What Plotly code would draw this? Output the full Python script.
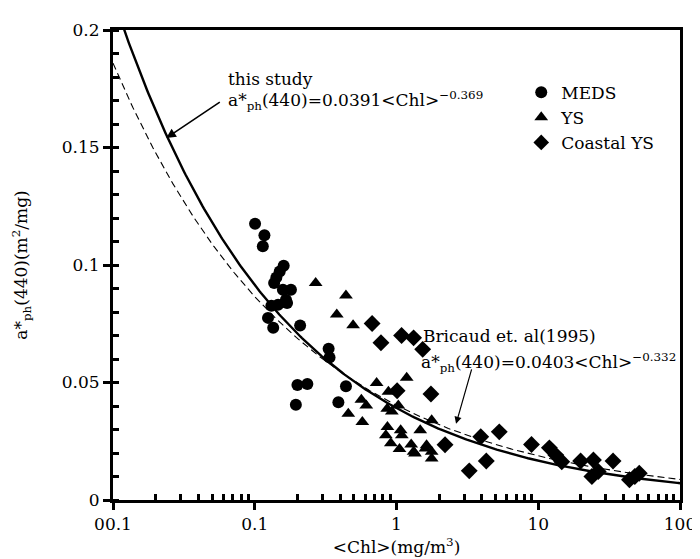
import numpy as np
import plotly.graph_objects as go

# ---- data ----
meds_x = [0.1005, 0.117, 0.114, 0.160, 0.150, 0.142, 0.137, 0.158, 0.180, 0.166,
          0.131, 0.146, 0.169, 0.124, 0.135, 0.209, 0.332, 0.337, 0.200, 0.235,
          0.44, 0.389, 0.195]
meds_y = [0.1176, 0.1127, 0.108, 0.0997, 0.0972, 0.0947, 0.0923, 0.0895, 0.0895, 0.0852,
          0.0827, 0.0831, 0.0838, 0.0775, 0.0733, 0.0743, 0.0644, 0.0606, 0.0489, 0.0494,
          0.0484, 0.0416, 0.0405]

ys_x = [0.269, 0.44, 0.379, 0.494, 0.457, 0.724, 1.18, 0.877, 0.565, 0.612,
        0.574, 1.03, 0.927, 0.863, 0.841, 1.07, 0.912, 1.05, 1.27, 1.47,
        1.63, 1.32, 1.77, 1.77, 1.77, 0.86, 1.09, 1.35, 1.6]
ys_y = [0.0923, 0.087, 0.0789, 0.0744, 0.0367, 0.0498, 0.052, 0.0461, 0.0427, 0.0402,
        0.0332, 0.0402, 0.0377, 0.0311, 0.0276, 0.0297, 0.0241, 0.0217, 0.0236, 0.0297,
        0.0233, 0.0205, 0.0177, 0.0205, 0.0339, 0.0388, 0.0276, 0.0198, 0.0219]

coastal_x = [0.673, 0.777, 1.086, 1.32, 1.53, 1.01, 1.75, 2.2, 3.93, 5.31,
             4.30, 3.26, 8.96, 11.98, 13.3, 14.65, 19.9, 24.5, 33.7, 23.9,
             26.5, 44, 51.6, 48]
coastal_y = [0.0751, 0.0669, 0.070, 0.069, 0.0641, 0.0465, 0.0451, 0.0235, 0.0269, 0.029,
             0.0166, 0.0124, 0.0236, 0.0222, 0.0191, 0.0163, 0.0166, 0.017, 0.0166, 0.010,
             0.0121, 0.0086, 0.0114, 0.0100]

# fitted power laws given in the chart
this_a, this_b = 0.0391, -0.369
bric_a, bric_b = 0.0403, -0.332

x_tickvals = [0.01, 0.1, 1, 10, 100]
x_ticktext = ["00.1", "0.1", "1", "10", "100"]
y_tickvals = [0, 0.05, 0.1, 0.15, 0.2]
y_ticktext = ["0", "0.05", "0.1", "0.15", "0.2"]

FONT = "DejaVu Serif"
FS = 17

xc = np.logspace(-2, 2, 400)
fig = go.Figure()
fig.add_trace(go.Scatter(x=xc, y=bric_a * xc ** bric_b, mode="lines",
                         line=dict(color="black", width=1.1, dash="7px,4px"),
                         showlegend=False, hoverinfo="skip"))
fig.add_trace(go.Scatter(x=xc, y=this_a * xc ** this_b, mode="lines",
                         line=dict(color="black", width=2.4),
                         showlegend=False, hoverinfo="skip"))
fig.add_trace(go.Scatter(x=meds_x, y=meds_y, mode="markers", name="MEDS",
                         marker=dict(symbol="circle", size=12, color="black")))
fig.add_trace(go.Scatter(x=ys_x, y=ys_y, mode="markers", name="YS",
                         marker=dict(symbol="triangle-up", size=12, color="black")))
fig.add_trace(go.Scatter(x=coastal_x, y=coastal_y, mode="markers", name="Coastal YS",
                         marker=dict(symbol="diamond", size=13, color="black")))

minor_x = [m * 10.0 ** e for e in range(-2, 2) for m in range(2, 10)]

fig.update_layout(
    width=700, height=559,
    margin=dict(l=103, r=22, t=18, b=67),
    paper_bgcolor="white", plot_bgcolor="white",
    font=dict(family=FONT, size=FS, color="black"),
    legend=dict(x=0.72, y=0.905, xanchor="left", yanchor="top",
                bgcolor="rgba(0,0,0,0)", font=dict(family=FONT, size=FS),
                itemsizing="constant", tracegroupgap=0, itemwidth=30),
    xaxis=dict(type="log", range=[-2, 2], showgrid=False, zeroline=False,
               showline=True, linecolor="black", linewidth=3, mirror=True,
               tickvals=x_tickvals, ticktext=x_ticktext,
               ticks="outside", ticklen=7, tickwidth=3, tickcolor="black",
               minor=dict(tickvals=minor_x, ticks="inside", ticklen=6, tickwidth=2.5,
                          tickcolor="black", showgrid=False),
               title=dict(text="&lt;Chl&gt;(mg/m<sup>3</sup>)",
                          font=dict(family=FONT, size=FS), standoff=8),
               tickfont=dict(family=FONT, size=FS)),
    yaxis=dict(range=[0, 0.2], showgrid=False, zeroline=False,
               showline=True, linecolor="black", linewidth=3, mirror=True,
               tickvals=y_tickvals, ticktext=y_ticktext,
               ticks="outside", ticklen=7, tickwidth=3, tickcolor="black",
               minor=dict(dtick=0.01, ticks="inside", ticklen=6, tickwidth=2.5,
                          tickcolor="black", showgrid=False),
               title=dict(text="a*<sub>ph</sub>(440)(m<sup>2</sup>/mg)",
                          font=dict(family=FONT, size=FS), standoff=30),
               tickfont=dict(family=FONT, size=FS)),
)

ann = [
    dict(x=0.2, y=0.895, text="this study"),
    dict(x=0.2, y=0.85, text="a*<sub>ph</sub>(440)=0.0391&lt;Chl&gt;<sup>−0.369</sup>"),
    dict(x=0.543, y=0.348, text="Bricaud et. al(1995)"),
    dict(x=0.539, y=0.293, text="a*<sub>ph</sub>(440)=0.0403&lt;Chl&gt;<sup>−0.332</sup>"),
]
for a in ann:
    fig.add_annotation(xref="paper", yref="paper", xanchor="left", yanchor="middle",
                       showarrow=False, font=dict(family=FONT, size=FS, color="black"), **a)

fig.add_annotation(xref="paper", yref="paper", x=0.094, y=0.770, text="",
                   showarrow=True, ax=55, ay=-37, arrowhead=2, arrowsize=1.2,
                   arrowwidth=1.6, arrowcolor="black")
fig.add_annotation(xref="paper", yref="paper", x=0.605, y=0.162, text="",
                   showarrow=True, ax=16, ay=-56, arrowhead=2, arrowsize=1.2,
                   arrowwidth=1.2, arrowcolor="black")

fig.write_html("out.html")
